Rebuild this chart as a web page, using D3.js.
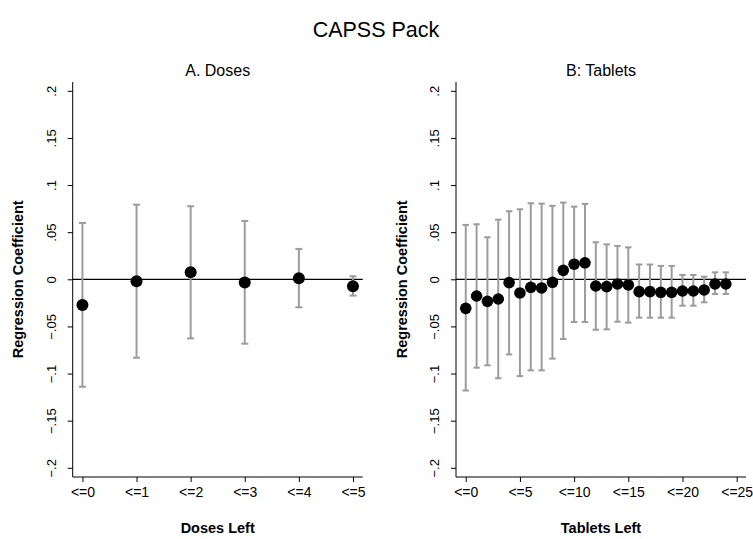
<!DOCTYPE html>
<html>
<head>
<meta charset="utf-8">
<script src="https://cdn.jsdelivr.net/npm/d3@7"></script>
<style>
  body { margin: 0; background: #fff; }
  svg { display: block; font-family: "Liberation Sans", Arial, sans-serif; }
</style>
</head>
<body>
<div id="chart"></div>
<script>
// CAPSS Pack - regression coefficients with CIs

const yTicks = [-0.2, -0.15, -0.1, -0.05, 0, 0.05, 0.1, 0.15, 0.2];
const yTickLabels = ['\u2212.2', '\u2212.15', '\u2212.1', '\u2212.05', '0', '.05', '.1', '.15', '.2'];

// Panel A: doses left
const dosesX = [0, 1, 2, 3, 4, 5];
const dosesCoef = [-0.0273, -0.0021, 0.0074, -0.0035, 0.0011, -0.0074];
const dosesHi = [0.0598, 0.0792, 0.0775, 0.0619, 0.0322, 0.0032];
const dosesLo = [-0.114, -0.0832, -0.0627, -0.0683, -0.0297, -0.0173];
const dosesTicks = [0, 1, 2, 3, 4, 5];
const dosesTickLabels = ['<=0', '<=1', '<=2', '<=3', '<=4', '<=5'];

// Panel B: tablets left
const tabletsX = d3.range(0, 25);
const tabletsCoef = [-0.0308, -0.0177, -0.0234, -0.0209, -0.0035, -0.0145, -0.0085, -0.0092, -0.0032,
  0.0095, 0.016, 0.0175, -0.0071, -0.0078, -0.005, -0.006, -0.0131, -0.0131, -0.0138, -0.0138,
  -0.0124, -0.0124, -0.0113, -0.005, -0.005];
const tabletsHi = [0.0577, 0.0584, 0.0446, 0.0633, 0.0722, 0.0743, 0.0807, 0.0803, 0.0779,
  0.0814, 0.0771, 0.08, 0.0393, 0.0371, 0.0354, 0.0339, 0.0157, 0.0157, 0.0142, 0.0142,
  0.0046, 0.0046, 0.0028, 0.0074, 0.0074];
const tabletsLo = [-0.118, -0.0938, -0.0913, -0.105, -0.0797, -0.1027, -0.0966, -0.0966, -0.0842,
  -0.0634, -0.0453, -0.0453, -0.0535, -0.0531, -0.045, -0.046, -0.0407, -0.0407, -0.0407, -0.0407,
  -0.028, -0.028, -0.0244, -0.0156, -0.0156];
const tabletsTicks = [0, 5, 10, 15, 20, 25];
const tabletsTickLabels = ['<=0', '<=5', '<=10', '<=15', '<=20', '<=25'];

const width = 753, height = 539;
const fontFam = '"Liberation Sans", Arial, sans-serif';

const svg = d3.select('#chart').append('svg')
    .attr('width', width)
    .attr('height', height);

svg.append('text')
    .attr('x', 376)
    .attr('y', 37)
    .attr('text-anchor', 'middle')
    .attr('font-size', 21.5)
    .text('CAPSS Pack');

const yScale = d3.scaleLinear().domain([-0.2, 0.2]).range([467.8, 90.8]);

function drawPanel(opts) {
    const g = svg.append('g');
    const x = d3.scaleLinear().domain(opts.xDomain).range([opts.left, opts.right]);
    const top = 82, bottom = 477;

    // title
    g.append('text')
        .attr('x', (opts.left + opts.right) / 2)
        .attr('y', 76)
        .attr('text-anchor', 'middle')
        .attr('font-size', 16)
        .text(opts.title);

    // y axis
    const yAxis = g.append('g')
        .attr('transform', `translate(${opts.left},0)`)
        .call(d3.axisLeft(yScale).tickValues(yTicks).tickSize(5).tickSizeOuter(0)
            .tickFormat((d, i) => yTickLabels[i]));
    yAxis.select('.domain').remove();
    yAxis.selectAll('.tick line').attr('stroke', '#000');
    yAxis.selectAll('.tick text')
        .attr('font-size', 13)
        .attr('fill', '#000')
        .attr('transform', 'rotate(-90)')
        .attr('x', 0)
        .attr('y', -17)
        .attr('dy', 0)
        .attr('text-anchor', 'middle')
        .attr('font-family', fontFam);
    g.append('line')
        .attr('x1', opts.left).attr('x2', opts.left)
        .attr('y1', top).attr('y2', bottom)
        .attr('stroke', '#000');

    // x axis
    const xAxis = g.append('g')
        .attr('transform', `translate(0,${bottom})`)
        .call(d3.axisBottom(x).tickValues(opts.ticks).tickSize(5).tickSizeOuter(0)
            .tickFormat((d, i) => opts.tickLabels[i]));
    xAxis.select('.domain').remove();
    xAxis.selectAll('.tick line').attr('stroke', '#000');
    xAxis.selectAll('.tick text')
        .attr('font-size', 14)
        .attr('fill', '#000')
        .attr('y', 10)
        .attr('font-family', fontFam);
    g.append('line')
        .attr('x1', opts.left).attr('x2', opts.right)
        .attr('y1', bottom).attr('y2', bottom)
        .attr('stroke', '#000');

    // axis titles
    g.append('text')
        .attr('transform', `translate(${opts.left - 49.5},${yScale(0)}) rotate(-90)`)
        .attr('text-anchor', 'middle')
        .attr('font-size', 14.5)
        .attr('font-weight', 'bold')
        .text('Regression Coefficient');
    g.append('text')
        .attr('x', (opts.left + opts.right) / 2)
        .attr('y', 533)
        .attr('text-anchor', 'middle')
        .attr('font-size', 14.5)
        .attr('font-weight', 'bold')
        .text(opts.xTitle);

    // zero line
    g.append('line')
        .attr('x1', opts.left).attr('x2', opts.right)
        .attr('y1', yScale(0)).attr('y2', yScale(0))
        .attr('stroke', '#000')
        .attr('stroke-width', 1.2);

    const rows = opts.xs.map((v, i) => ({ x: v, c: opts.coef[i], hi: opts.hi[i], lo: opts.lo[i] }));
    const cap = opts.cap;

    const bars = g.append('g')
        .attr('stroke', '#9c9c9c')
        .attr('stroke-width', 2);
    bars.selectAll('line.ci')
        .data(rows).enter().append('line')
        .attr('class', 'ci')
        .attr('x1', d => x(d.x)).attr('x2', d => x(d.x))
        .attr('y1', d => yScale(d.hi)).attr('y2', d => yScale(d.lo));
    bars.selectAll('line.caphi')
        .data(rows).enter().append('line')
        .attr('class', 'caphi')
        .attr('x1', d => x(d.x) - cap).attr('x2', d => x(d.x) + cap)
        .attr('y1', d => yScale(d.hi)).attr('y2', d => yScale(d.hi));
    bars.selectAll('line.caplo')
        .data(rows).enter().append('line')
        .attr('class', 'caplo')
        .attr('x1', d => x(d.x) - cap).attr('x2', d => x(d.x) + cap)
        .attr('y1', d => yScale(d.lo)).attr('y2', d => yScale(d.lo));

    g.append('g').selectAll('circle')
        .data(rows).enter().append('circle')
        .attr('cx', d => x(d.x))
        .attr('cy', d => yScale(d.c))
        .attr('r', opts.r)
        .attr('fill', '#000');
}

drawPanel({
    title: 'A. Doses', xTitle: 'Doses Left',
    left: 72.7, right: 362.7, xDomain: [-0.18, 5.18],
    xs: dosesX, coef: dosesCoef, hi: dosesHi, lo: dosesLo,
    ticks: dosesTicks, tickLabels: dosesTickLabels, cap: 3.5, r: 6
});

drawPanel({
    title: 'B: Tablets', xTitle: 'Tablets Left',
    left: 456, right: 746, xDomain: [-0.9, 25.86],
    xs: tabletsX, coef: tabletsCoef, hi: tabletsHi, lo: tabletsLo,
    ticks: tabletsTicks, tickLabels: tabletsTickLabels, cap: 3.2, r: 5.8
});
</script>
</body>
</html>
